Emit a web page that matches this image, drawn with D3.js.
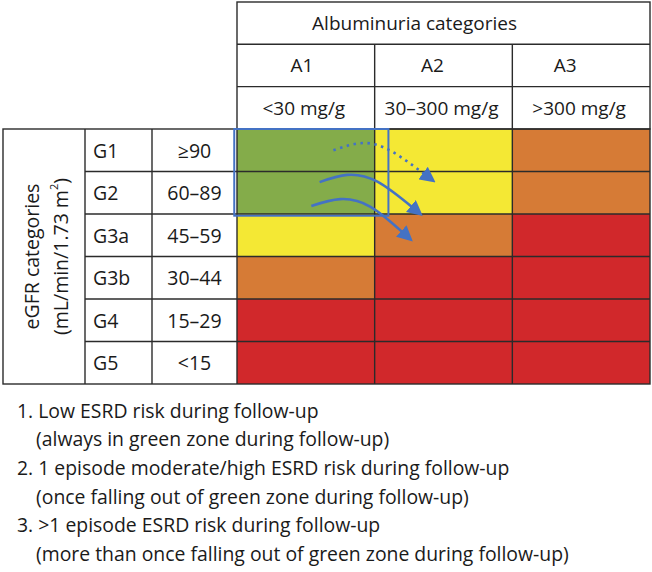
<!DOCTYPE html>
<html>
<head>
<meta charset="utf-8">
<script src="https://cdn.jsdelivr.net/npm/d3@7"></script>
<style>
  body { margin: 0; background: #fff; }
  text { font-family: "Open Sans", sans-serif; fill: #1a1a1a; }
</style>
</head>
<body>
<div id="container"></div>
<script>
    'use strict';

    const albCodes  = ['A1', 'A2', 'A3'];
    const albRanges = ['<30 mg/g', '30\u2013300 mg/g', '>300 mg/g'];
    const gfrCodes  = ['G1', 'G2', 'G3a', 'G3b', 'G4', 'G5'];
    const gfrRanges = ['\u226590', '60\u201389', '45\u201359', '30\u201344', '15\u201329', '<15'];

    // risk level per row (G1..G5) and column (A1..A3): 0 low, 1 moderate, 2 high, 3 very high
    const riskGrid = [
        [0, 1, 2],
        [0, 1, 2],
        [1, 2, 3],
        [2, 3, 3],
        [3, 3, 3],
        [3, 3, 3]
    ];

    // arrows in grid units (column, row)
    const arrowDotted = [[0.70, 0.50], [0.92, 0.33], [1.13, 0.54], [1.37, 1.08]];
    const arrowOnce   = [[0.60, 1.25], [0.80, 1.08], [1.02, 1.24], [1.28, 1.86]];
    const arrowMore   = [[0.54, 1.81], [0.75, 1.65], [0.97, 1.83], [1.21, 2.45]];
    const greenBox    = { c0: -0.02, c1: 1.10, r0: 0, r1: 2.04 };

    const notes = [
        ['1. Low ESRD risk during follow-up', '(always in green zone during follow-up)'],
        ['2. 1 episode moderate/high ESRD risk during follow-up', '(once falling out of green zone during follow-up)'],
        ['3. >1 episode ESRD risk during follow-up', '(more than once falling out of green zone during follow-up)']
    ];

    const color = {
        risk: ['#84ac4a', '#f4e834', '#d67b36', '#d1282b'],
        line: '#2b2b2b',
        blue: '#4472c4'
    };

    const width = 652, height = 572;
    const gridLeft = 237, gridRight = 650, gridTop = 129, gridBottom = 384;
    const headTop = 2, headRow = 42.3;
    const lw = 1.4;
    const fs = 19;
    const codeNudge = [-4, -11, -16]; // A1..A3 labels sit a bit left of centre

    const svg = d3.select('#container')
        .append('svg')
        .attr('width', width)
        .attr('height', height);

    const x = d3.scaleLinear().domain([0, albCodes.length]).range([gridLeft, gridRight]);
    const y = d3.scaleLinear().domain([0, gfrCodes.length]).range([gridTop, gridBottom]);

    // coloured cells
    const cells = [];
    riskGrid.forEach((row, r) => row.forEach((v, c) => cells.push({ r, c, v })));
    svg.append('g').selectAll('rect')
        .data(cells)
        .join('rect')
        .attr('x', d => x(d.c))
        .attr('y', d => y(d.r))
        .attr('width', x(1) - x(0))
        .attr('height', y(1) - y(0))
        .attr('fill', d => color.risk[d.v]);

    const lines = svg.append('g')
        .attr('stroke', color.line)
        .attr('stroke-width', lw)
        .attr('fill', 'none');

    function line(x1, y1, x2, y2) {
        lines.append('line')
            .attr('x1', x1).attr('y1', y1)
            .attr('x2', x2).attr('y2', y2);
    }

    // header table
    const colLeft = [3, 85, 152];
    lines.append('rect')
        .attr('x', gridLeft).attr('y', headTop)
        .attr('width', gridRight - gridLeft).attr('height', gridTop - headTop);
    line(gridLeft, headTop + headRow, gridRight, headTop + headRow);
    line(gridLeft, headTop + 2 * headRow, gridRight, headTop + 2 * headRow);
    d3.range(1, albCodes.length).forEach(c => line(x(c), headTop + headRow, x(c), gridBottom));

    // body table
    lines.append('rect')
        .attr('x', colLeft[0]).attr('y', gridTop)
        .attr('width', gridRight - colLeft[0]).attr('height', gridBottom - gridTop);
    line(colLeft[1], gridTop, colLeft[1], gridBottom);
    line(colLeft[2], gridTop, colLeft[2], gridBottom);
    line(gridLeft, gridTop, gridLeft, gridBottom);
    d3.range(1, gfrCodes.length).forEach(r => line(colLeft[1], y(r), gridRight, y(r)));

    // header texts
    svg.append('text')
        .attr('x', x(1.29))
        .attr('y', headTop + headRow / 2)
        .attr('text-anchor', 'middle')
        .attr('dominant-baseline', 'central')
        .attr('font-size', fs)
        .text('Albuminuria categories');

    svg.append('g').selectAll('text')
        .data(albCodes)
        .join('text')
        .attr('x', (d, c) => x(c + 0.5) + codeNudge[c])
        .attr('y', headTop + headRow * 1.5)
        .attr('text-anchor', 'middle')
        .attr('dominant-baseline', 'central')
        .attr('font-size', fs)
        .text(d => d);

    svg.append('g').selectAll('text')
        .data(albRanges)
        .join('text')
        .attr('x', (d, c) => x(c + 0.5) - 2)
        .attr('y', headTop + headRow * 2.5)
        .attr('text-anchor', 'middle')
        .attr('dominant-baseline', 'central')
        .attr('font-size', fs)
        .text(d => d);

    // row labels
    svg.append('g').selectAll('text')
        .data(gfrCodes)
        .join('text')
        .attr('x', colLeft[1] + 8)
        .attr('y', (d, r) => y(r + 0.5))
        .attr('dominant-baseline', 'central')
        .attr('font-size', fs + 0.5)
        .text(d => d);

    svg.append('g').selectAll('text')
        .data(gfrRanges)
        .join('text')
        .attr('x', (colLeft[2] + gridLeft) / 2)
        .attr('y', (d, r) => y(r + 0.5))
        .attr('text-anchor', 'middle')
        .attr('dominant-baseline', 'central')
        .attr('font-size', fs + 0.5)
        .text(d => d);

    const side = svg.append('g')
        .attr('transform', `translate(${(colLeft[0] + colLeft[1]) / 2},${(gridTop + gridBottom) / 2}) rotate(-90)`);
    side.append('text')
        .attr('y', -13)
        .attr('text-anchor', 'middle')
        .attr('dominant-baseline', 'central')
        .attr('font-size', 19.5)
        .text('eGFR categories');
    const unit = side.append('text')
        .attr('y', 16)
        .attr('text-anchor', 'middle')
        .attr('dominant-baseline', 'central')
        .attr('font-size', 19.5);
    unit.append('tspan').text('(mL/min/1.73 m');
    unit.append('tspan').attr('font-size', 11).attr('dy', -7).text('2');
    unit.append('tspan').attr('dy', 7).text(')');

    // green zone box
    svg.append('rect')
        .attr('x', x(greenBox.c0))
        .attr('y', y(greenBox.r0))
        .attr('width', x(greenBox.c1) - x(greenBox.c0))
        .attr('height', y(greenBox.r1) - y(greenBox.r0))
        .attr('fill', 'none')
        .attr('stroke', color.blue)
        .attr('stroke-width', 2);

    // arrows
    svg.append('defs').append('marker')
        .attr('id', 'head')
        .attr('viewBox', '0 0 10 10')
        .attr('refX', 2).attr('refY', 5)
        .attr('markerWidth', 6).attr('markerHeight', 6)
        .attr('markerUnits', 'strokeWidth')
        .attr('orient', 'auto')
        .append('path')
        .attr('d', 'M0,0 L10,5 L0,10 Z')
        .attr('fill', color.blue);

    const curve = d3.line()
        .x(d => x(d[0]))
        .y(d => y(d[1]))
        .curve(d3.curveNatural);

    [[arrowDotted, '2.5,4.5'], [arrowOnce, null], [arrowMore, null]].forEach(([pts, dash]) => {
        svg.append('path')
            .attr('d', curve(pts))
            .attr('fill', 'none')
            .attr('stroke', color.blue)
            .attr('stroke-width', 2.6)
            .attr('stroke-dasharray', dash)
            .attr('marker-end', 'url(#head)');
    });

    // notes
    const noteTop = 410, noteStep = 28.7;
    notes.forEach((pair, i) => {
        pair.forEach((t, j) => {
            svg.append('text')
                .attr('x', j === 0 ? 17 : 36)
                .attr('y', noteTop + noteStep * (2 * i + j))
                .attr('dominant-baseline', 'central')
                .attr('font-size', 19.4)
                .text(t);
        });
    });
</script>
</body>
</html>
